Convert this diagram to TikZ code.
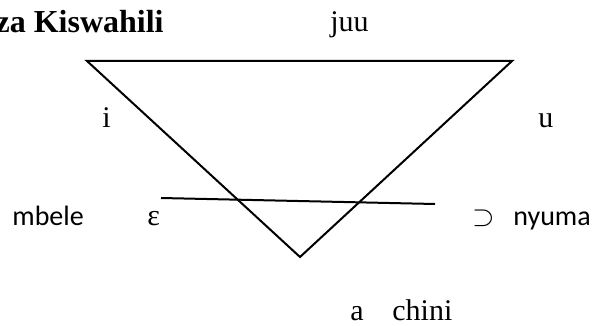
\documentclass[tikz,border=0pt]{standalone}
\usepackage{fontspec}
\setmainfont{Liberation Serif}
\newfontfamily\calibrifont{Carlito}
\tikzset{
	lbl/.style={anchor=base west, inner sep=0pt, font=\fontsize{15}{18}\selectfont},
	sanslbl/.style={lbl, font=\calibrifont\fontsize{14}{17}\selectfont},
	edge/.style={line width=1pt, line join=miter}
}
\begin{document}
\begin{tikzpicture}[x=0.5pt, y=-0.5pt]
			\useasboundingbox (0,0) rectangle (599,326);
			% corners of the chart
			\coordinate (front) at (87,61);
			\coordinate (back) at (512,61);
			\coordinate (low) at (300,257);
			\coordinate (midl) at (161,198);
			\coordinate (midr) at (435,204);
			\draw[edge] (front) -- (back) -- (low) -- cycle;
			\draw[edge] (midl) -- (midr);
			% labels
			\node[lbl, anchor=base east, font=\bfseries\fontsize{16}{19}\selectfont] (title) at (164,33) {za Kiswahili};
			\node[lbl] (juu) at (330,32) {juu};
			\node[lbl] (i) at (102,127) {i};
			\node[lbl] (u) at (538,127) {u};
			\node[sanslbl] (mbele) at (12,225) {mbele};
			\node[lbl] (eps) at (147,225) {ε};
			\node[lbl] (sup) at (472,225) {$\supset$};
			\node[sanslbl] (nyuma) at (513,225) {nyuma};
			\node[lbl] (a) at (350,320) {a};
			\node[lbl] (chini) at (392,320) {chini};
		\end{tikzpicture}
\end{document}
